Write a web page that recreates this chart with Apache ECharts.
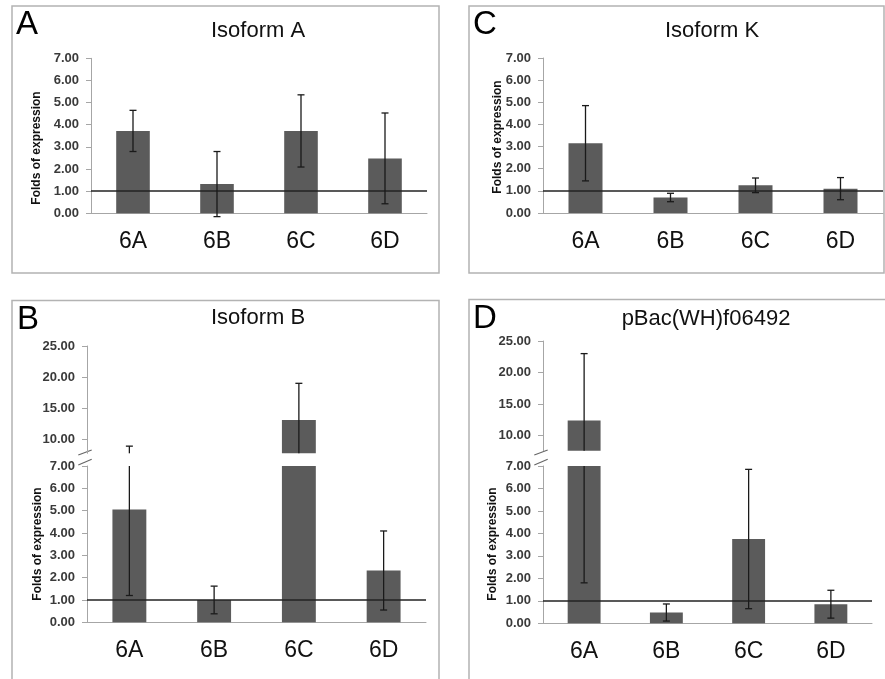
<!DOCTYPE html>
<html><head><meta charset="utf-8">
<script src="https://cdn.jsdelivr.net/npm/echarts@6/dist/echarts.min.js"></script>
<style>html,body{margin:0;padding:0;background:#fff}#c{width:885px;height:679px}</style>
</head><body><div id="c"></div>
<script>
// ---- data ----
const categories = ['6A', '6B', '6C', '6D'];
const isoformA = [3.72, 1.32, 3.72, 2.48];
const isoformAErr = [0.93, 1.47, 1.63, 2.05];
const isoformK = [3.15, 0.70, 1.25, 1.10];
const isoformKErr = [1.70, 0.19, 0.33, 0.50];
const isoformB = [5.05, 1.00, 13.1, 2.32];
const isoformBErr = [3.85, 0.62, 5.9, 1.77];
const pBac = [12.4, 0.48, 3.75, 0.85];
const pBacErr = [10.6, 0.38, 3.1, 0.62];
const lowTicks = [0, 1, 2, 3, 4, 5, 6, 7];
const highTicks = [10, 15, 20, 25];
const referenceLevel = 1;

// ---- layout / style ----
const FONT = 'Liberation Sans, Arial, sans-serif';
const BAR_COLOR = '#5b5b5b';
const AXIS_COLOR = '#a6a6a6';
const panels = [
  { letter: 'A', title: 'Isoform A', values: isoformA, errs: isoformAErr,
    box: [12, 6, 427, 267], letterPos: [16, 25], titlePos: [258, 31], namePos: [37, 148],
    low: { left: 91, top: 58.3, width: 336, height: 155 }, high: null },
  { letter: 'C', title: 'Isoform K', values: isoformK, errs: isoformKErr,
    box: [469, 6, 415, 267], letterPos: [473, 25], titlePos: [712, 31], namePos: [498, 137],
    low: { left: 543, top: 58, width: 340, height: 155 }, high: null },
  { letter: 'B', title: 'Isoform B', values: isoformB, errs: isoformBErr,
    box: [12, 300.5, 427, 400], letterPos: [17, 320], titlePos: [258, 318], namePos: [38, 544],
    low: { left: 87, top: 466, width: 339, height: 156.3 },
    high: { left: 87, top: 346, width: 339, height: 107.3, min: 7.75 } },
  { letter: 'D', title: 'pBac(WH)f06492', values: pBac, errs: pBacErr,
    box: [469, 299.5, 430, 400], letterPos: [473, 319], titlePos: [706, 319], namePos: [493, 544],
    low: { left: 543, top: 466, width: 329, height: 157.3 },
    high: { left: 543, top: 341, width: 329, height: 109.7, min: 7.6 } }
];

const grid = [], xAxis = [], yAxis = [], series = [], graphic = [];

function errorSeries(idx, values, errs, lo, hi) {
  return {
    type: 'custom', xAxisIndex: idx, yAxisIndex: idx, z: 5, silent: true,
    data: values.map((v, i) => [i, v - errs[i], v + errs[i]]),
    renderItem(params, api) {
      const x = api.value(0), l = api.value(1), h = api.value(2);
      const a = Math.max(l, lo), b = Math.min(h, hi);
      if (a >= b) return null;
      const p1 = api.coord([x, a]), p2 = api.coord([x, b]);
      const st = { stroke: '#1a1a1a', lineWidth: 1.3 };
      const ch = [{ type: 'line', shape: { x1: p1[0], y1: p1[1], x2: p2[0], y2: p2[1] }, style: st }];
      if (l >= lo) ch.push({ type: 'line', shape: { x1: p1[0] - 3.5, y1: p1[1], x2: p1[0] + 3.5, y2: p1[1] }, style: st });
      if (h <= hi) ch.push({ type: 'line', shape: { x1: p2[0] - 3.5, y1: p2[1], x2: p2[0] + 3.5, y2: p2[1] }, style: st });
      return { type: 'group', children: ch };
    }
  };
}

const yLabel = { fontFamily: FONT, fontSize: 13, fontWeight: 'bold', color: '#3a3a3a', margin: 12,
  formatter: v => Number(v).toFixed(2) };

panels.forEach(p => {
  // lower (or single) grid
  const li = grid.length;
  grid.push(Object.assign({ outerBoundsMode: 'none', containLabel: false }, p.low));
  xAxis.push({ type: 'category', gridIndex: li, data: categories,
    axisLine: { lineStyle: { color: AXIS_COLOR, width: 1 } },
    axisTick: { length: 6, lineStyle: { color: AXIS_COLOR } },
    axisLabel: { fontFamily: FONT, fontSize: 23, color: '#111', margin: 17 } });
  yAxis.push({ type: 'value', gridIndex: li, min: lowTicks[0], max: lowTicks[lowTicks.length - 1], interval: 1,
    splitLine: { show: false },
    axisLine: { show: true, lineStyle: { color: AXIS_COLOR, width: 1 } },
    axisTick: { show: true, length: 5, lineStyle: { color: AXIS_COLOR } },
    axisLabel: yLabel });
  series.push({ type: 'bar', xAxisIndex: li, yAxisIndex: li, data: p.values, barWidth: '40%',
    itemStyle: { color: BAR_COLOR }, silent: true,
    markLine: { silent: true, symbol: 'none', label: { show: false },
      lineStyle: { color: '#222', width: 1.5, type: 'solid' },
      data: [{ yAxis: referenceLevel }] } });
  series.push(errorSeries(li, p.values, p.errs, -Infinity, p.high ? lowTicks[lowTicks.length - 1] : Infinity));

  if (p.high) {
    const hi = grid.length;
    const hmin = p.high.min, hmax = highTicks[highTicks.length - 1];
    grid.push({ left: p.high.left, top: p.high.top, width: p.high.width, height: p.high.height, outerBoundsMode: 'none', containLabel: false });
    xAxis.push({ type: 'category', gridIndex: hi, data: categories, show: false });
    yAxis.push({ type: 'value', gridIndex: hi, min: hmin, max: hmax,
      splitLine: { show: false },
      axisLine: { show: true, lineStyle: { color: AXIS_COLOR, width: 1 } },
      axisTick: { show: true, length: 5, lineStyle: { color: AXIS_COLOR }, customValues: highTicks },
      axisLabel: Object.assign({ customValues: highTicks }, yLabel) });
    series.push({ type: 'bar', xAxisIndex: hi, yAxisIndex: hi, barWidth: '40%', silent: true,
      data: p.values.map(v => v > hmin ? v : '-'), itemStyle: { color: BAR_COLOR } });
    series.push(errorSeries(hi, p.values, p.errs, hmin, hmax));
    // axis break marks
    const bx = p.low.left, by = p.low.top;
    [[-11, -16], [-1, -6.7]].forEach(([y1, y2]) => {
      graphic.push({ type: 'line', shape: { x1: bx - 8.7, y1: by + y1, x2: bx + 4.7, y2: by + y2 },
        style: { stroke: '#666', lineWidth: 1.2 } });
    });
  }

  // panel decorations
  graphic.push({ type: 'rect', shape: { x: p.box[0], y: p.box[1], width: p.box[2], height: p.box[3] },
    style: { fill: 'none', stroke: '#b3b3b3', lineWidth: 1.5 }, z: -1 });
  graphic.push({ type: 'text', x: p.letterPos[0], y: p.letterPos[1],
    style: { text: p.letter, font: '33px ' + FONT, fill: '#000', align: 'left', verticalAlign: 'middle' } });
  graphic.push({ type: 'text', x: p.titlePos[0], y: p.titlePos[1],
    style: { text: p.title, font: '22px ' + FONT, fill: '#111', align: 'center', verticalAlign: 'middle' } });
  graphic.push({ type: 'text', x: p.namePos[0], y: p.namePos[1], rotation: Math.PI / 2,
    style: { text: 'Folds of expression', font: 'bold 12px ' + FONT, fill: '#111', align: 'center', verticalAlign: 'middle' } });
});

const chart = echarts.init(document.getElementById('c'), null, { renderer: 'canvas' });
chart.setOption({ animation: false, backgroundColor: '#fff', grid, xAxis, yAxis, series, graphic });
</script>
</body></html>
